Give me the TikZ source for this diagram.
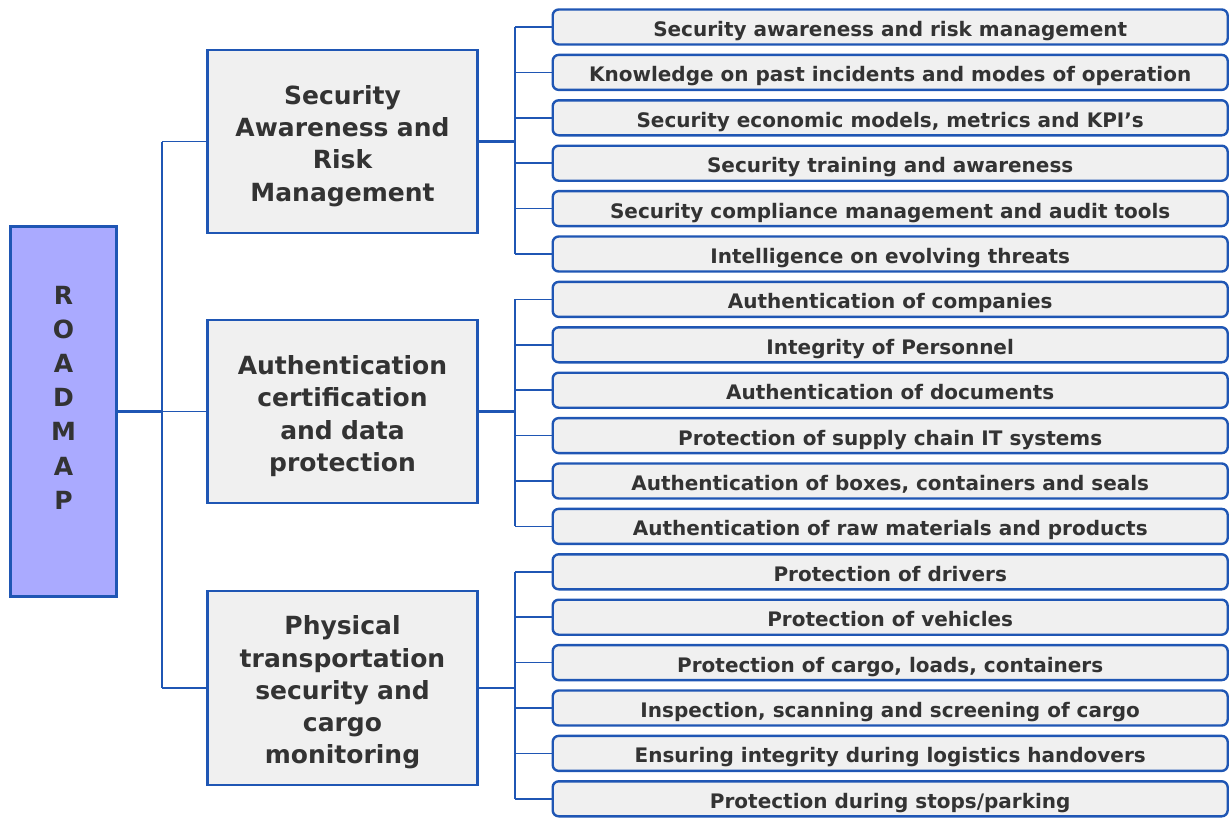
\documentclass[tikz,border=0pt]{standalone}
\usepackage{fontspec}
\setmainfont{DejaVu Sans}
\definecolor{edge}{HTML}{1F56B4}
\definecolor{boxfill}{HTML}{F0F0F0}
\definecolor{roadfill}{HTML}{AAAAFF}
\definecolor{txt}{HTML}{333333}
\begin{document}
\begin{tikzpicture}[x=1pt,y=-1pt,
  wire/.style={draw=edge, line width=1.6pt},
  wirethick/.style={draw=edge, line width=2.2pt},
  leaf/.style={draw=edge, fill=boxfill, line width=2.4pt, rounded corners=6pt,
    minimum width=675pt, minimum height=35pt, inner sep=0pt, anchor=west,
    text height=21pt, text depth=2pt,
    text=txt, font=\bfseries\fontsize{20}{22}\selectfont},
  theme/.style={draw=edge, fill=boxfill, line width=2.6pt, minimum width=270pt,
    inner sep=0pt, text=txt, align=center, text width=262pt,
    execute at begin node={\rule{0pt}{28pt}},
    font=\bfseries\fontsize{25}{32.2}\selectfont},
  rootbox/.style={draw=edge, fill=roadfill, line width=2.8pt, minimum width=106pt,
    minimum height=370pt, inner sep=0pt}
]
\useasboundingbox (0,0) rectangle (1229,819);

% root
\node[rootbox] (road) at (63.5,411.5) {};
\node[text=txt, align=center, font=\bfseries\fontsize{25}{34.2}\selectfont]
  (roadtxt) at (63.5,397.5) {R\\O\\A\\D\\M\\A\\P};

% themes
\node[theme, minimum height=183pt] (m1) at (342.5,141.5) {Security\\Awareness and\\Risk\\Management};
\node[theme, minimum height=183pt] (m2) at (342.5,411.5) {Authentication\\certification\\and data\\protection};
\node[theme, minimum height=194pt] (m3) at (342.5,688) {Physical\\transportation\\security and\\cargo\\monitoring};

% leaves
\foreach \i/\t in {
  1/Security awareness and risk management,
  2/Knowledge on past incidents and modes of operation,
  3/{Security economic models, metrics and KPI’s},
  4/Security training and awareness,
  5/Security compliance management and audit tools,
  6/Intelligence on evolving threats,
  7/Authentication of companies,
  8/Integrity of Personnel,
  9/Authentication of documents,
  10/Protection of supply chain IT systems,
  11/{Authentication of boxes, containers and seals},
  12/Authentication of raw materials and products,
  13/Protection of drivers,
  14/Protection of vehicles,
  15/{Protection of cargo, loads, containers},
  16/{Inspection, scanning and screening of cargo},
  17/Ensuring integrity during logistics handovers,
  18/{Protection during stops/parking}}
  \node[leaf] (l\i) at (551.5,{27+45.4*(\i-1)}) {\t};

% trunk from the root to the themes
\coordinate (trunk) at (162,411.5);
\draw[wirethick] (road.east) -- (trunk);
\draw[wire] (m1.west -| trunk) -- (m3.west -| trunk);
\draw[wire] (m1.west -| trunk) -- (m1.west);
\draw[wire] (trunk) -- (m2.west);
\draw[wire] (m3.west -| trunk) -- (m3.west);

% buses from each theme to its leaves
\coordinate (bus) at (515,0);
\foreach \m/\a/\b in {m1/1/6, m2/7/12, m3/13/18} {
  \draw[wirethick] (\m.east) -- (\m.east -| bus);
  \draw[wire] (l\a.west -| bus) -- (l\b.west -| bus);
  \foreach \k in {\a,...,\b}
    \draw[wire] (l\k.west -| bus) -- (l\k.west);
}
\end{tikzpicture}
\end{document}
